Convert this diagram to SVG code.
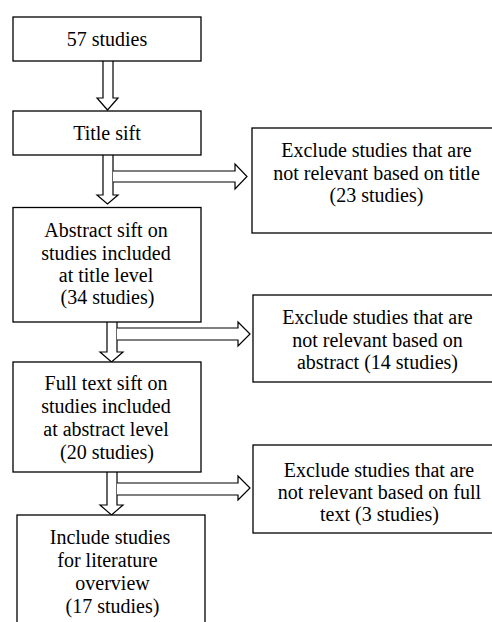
<svg xmlns="http://www.w3.org/2000/svg" width="492" height="622" viewBox="0 0 492 622">
<style>
.box{fill:#fff;stroke:#000;stroke-width:1.3}
.arr{fill:#fff;stroke:#000;stroke-width:1.2;stroke-linejoin:miter}
text{font-family:"Liberation Serif","Times New Roman",serif;font-size:20px;fill:#000;text-anchor:middle}
</style>
<rect width="492" height="622" fill="#fff"/>
<g id="connectors">
<path class="arr" d="M103,61 V98 H97 L107.5,110 L118,98 H113 V61"/>
<path class="arr" d="M103,155 V195 H97 L107.5,204 L118,195 H113 V155"/>
<path class="arr" d="M113,171 H235 V164 L247,176.5 L235,189 V182 H113"/>
<path class="arr" d="M107,322 V352 H100 L111.5,362 L123,352 H117 V322"/>
<path class="arr" d="M117,328 H238 V322 L250,334 L238,346 V340 H117"/>
<path class="arr" d="M107,472 V505 H100 L111.5,515 L123,505 H117 V472"/>
<path class="arr" d="M117,483 H238 V476 L250,488 L238,500 V495 H117"/>
</g>
<g id="n1"><rect class="box" x="13" y="17" width="188" height="44"/><text x="107" y="46">57 studies</text></g>
<g id="n2"><rect class="box" x="13" y="111" width="188" height="44"/><text x="107" y="140">Title sift</text></g>
<g id="n3"><rect class="box" x="13" y="207.5" width="188" height="114.5"/>
<text x="106" y="237">Abstract sift on</text><text x="106" y="259.5">studies included</text><text x="106" y="282">at title level</text><text x="107.5" y="304">(34 studies)</text></g>
<g id="n4"><rect class="box" x="13" y="362" width="188" height="110"/>
<text x="106" y="390">Full text sift on</text><text x="106" y="413">studies included</text><text x="106" y="436">at abstract level</text><text x="107" y="459">(20 studies)</text></g>
<g id="n5"><rect class="box" x="17" y="515" width="188" height="120"/>
<text x="110" y="544">Include studies</text><text x="107.5" y="567">for literature</text><text x="112.5" y="590">overview</text><text x="112.5" y="613">(17 studies)</text></g>
<g id="r1"><rect class="box" x="252" y="128" width="250" height="105"/>
<text x="376.5" y="157">Exclude studies that are</text><text x="376.5" y="180">not relevant based on title</text><text x="376.5" y="202">(23 studies)</text></g>
<g id="r2"><rect class="box" x="253" y="295" width="250" height="87"/>
<text x="377.5" y="324">Exclude studies that are</text><text x="377.5" y="347">not relevant based on</text><text x="377.5" y="369">abstract (14 studies)</text></g>
<g id="r3"><rect class="box" x="253" y="445" width="250" height="88"/>
<text x="379" y="477">Exclude studies that are</text><text x="379.5" y="499">not relevant based on full</text><text x="379.5" y="521">text (3 studies)</text></g>
</svg>
